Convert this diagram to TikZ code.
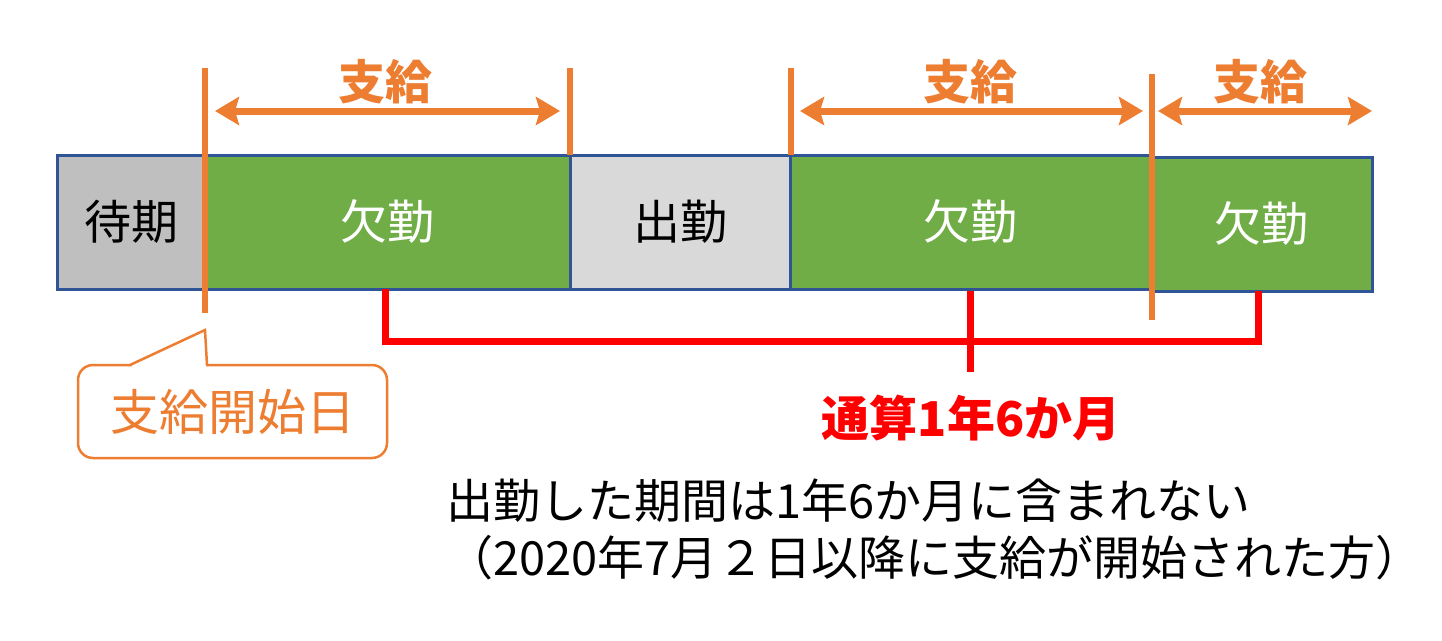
\documentclass[tikz,border=0pt]{standalone}
\usepackage{fontspec}
\setmainfont{Noto Sans CJK JP}
\usetikzlibrary{arrows.meta}
\definecolor{payorange}{HTML}{ED7D31}
\definecolor{absgreen}{HTML}{70AD47}
\definecolor{waitgray}{HTML}{BFBFBF}
\definecolor{workgray}{HTML}{D9D9D9}
\definecolor{segblue}{HTML}{2F5597}
\newcommand{\bigfont}{\fontsize{47}{57}\selectfont}
\tikzset{
  seg/.style      = {draw=segblue,line width=3pt,minimum height=134pt,inner sep=0pt,
                     outer sep=0pt,anchor=west,font=\bigfont},
  absent/.style   = {seg,fill=absgreen,text=white},
  paymark/.style  = {payorange,line width=6pt},
  payarr/.style   = {{Stealth[length=24pt,width=28pt,inset=4pt]}-{Stealth[length=24pt,width=28pt,inset=4pt]},
                     payorange,line width=7pt},
  paylbl/.style   = {payorange,font=\bigfont\bfseries},
  spanline/.style = {red,line width=7pt},
  callbox/.style  = {draw=payorange,line width=2.5pt,rounded corners=15pt,fill=white,text=payorange,
                     minimum width=309pt,minimum height=93pt,font=\fontsize{49}{57}\selectfont}
}

\begin{document}
\begin{tikzpicture}[x=1pt,y=-1pt]
  \useasboundingbox (0,0) rectangle (1442,640);
  \node[seg,fill=waitgray,minimum width=148pt] (wait) at (57,222) {待期};
  \node[absent,minimum width=365pt] (absA) at (wait.east) {欠勤};
  \node[seg,fill=workgray,minimum width=220pt] (work) at (absA.east) {出勤};
  \node[absent,minimum width=360pt] (absB) at (work.east) {欠勤};
  \node[absent,minimum width=222pt] (absC) at ([yshift=-2pt]absB.east) {欠勤};
  \foreach \x/\a/\b in {205/68/313,570/68/155,791/68/155,1152/74/320}
    \draw[paymark] (\x,\a) -- (\x,\b);
  \coordinate (pa1) at (215,111); \coordinate (pa2) at (560,111);
  \coordinate (pb1) at (800,111); \coordinate (pb2) at (1143,111);
  \coordinate (pc1) at (1158,111); \coordinate (pc2) at (1372,111);
  \draw[payarr] (pa1) -- (pa2);
  \draw[payarr] (pb1) -- (pb2);
  \draw[payarr] (pc1) -- (pc2);
  \node[paylbl] (payA) at (385,82) {支給};
  \node[paylbl] (payB) at (970,82) {支給};
  \node[paylbl] (payC) at (1260,82) {支給};
  \draw[spanline] (absA.south -| 385,0) -- ++(0,52) -| (absC.south -| 1258,0);
  \draw[spanline] ([yshift=-2pt]absB.south) -- ++(0,81);
  \node[red,font=\fontsize{48}{57}\selectfont\bfseries] (total) at (971,418) {通算1年6か月};
  \node[callbox] (startlbl) at (232.5,411.5) {支給開始日};
  \coordinate (starttip) at (205,330);
  \fill[white] (131.5,367) rectangle (206,363);
  \draw[payorange,line width=2.5pt] (130,365) -- (starttip) -- (207,365);
  \node[anchor=west,align=left,font=\fontsize{47}{57}\selectfont,inner sep=0pt] (note) at (446,529)
    {出勤した期間は1年6か月に含まれない\\（2020年7月２日以降に支給が開始された方）};
\end{tikzpicture}
\end{document}
